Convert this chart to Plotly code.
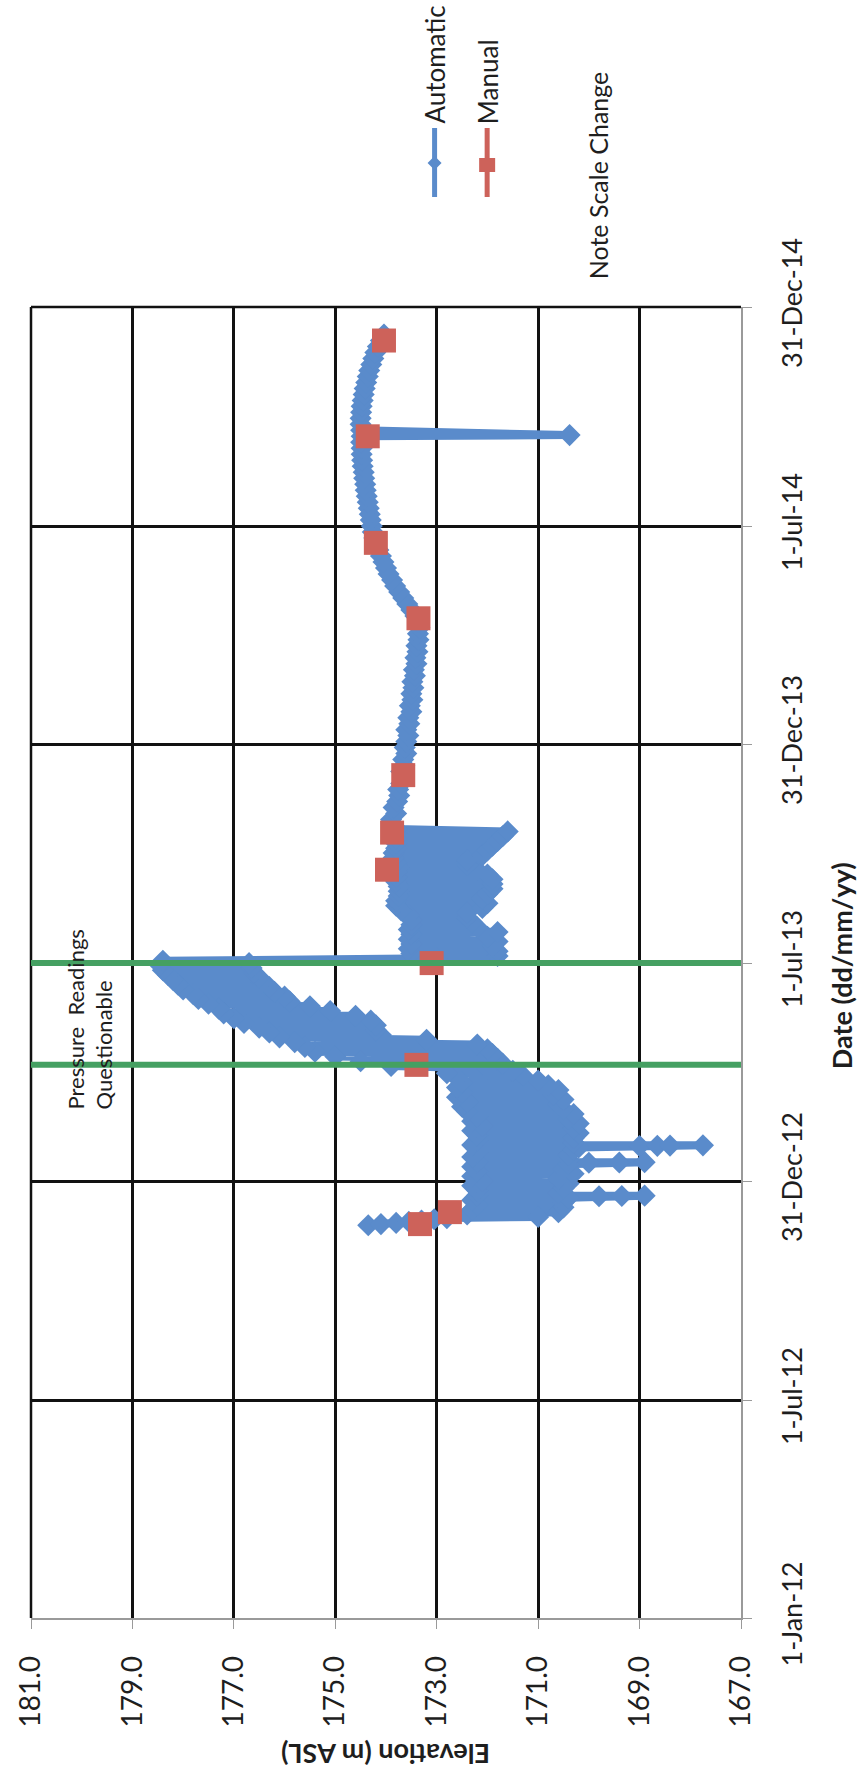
import pandas as pd
import plotly.graph_objects as go

# ---------------- data ----------------
# Automatic logger readings (m ASL)
TAIL_START = "2012-11-24"          # daily readings
TAIL_VALUES = [174.35, 174.1, 173.8, 173.55, 173.3, 173.05, 172.8]

WINTER_START = "2012-12-01"        # readings every 2 days
WINTER_VALUES = [171.0, 172.4, 170.6, 172.3, 170.5, 172.2, 170.5, 172.3, 170.4, 172.2,
                 170.6, 172.2, 170.5, 172.3, 170.4, 172.1, 170.6, 172.3, 170.3, 172.2,
                 170.5, 172.3, 170.4, 172.2, 170.4, 172.3, 170.4, 172.2, 170.3, 170.2,
                 172.3, 170.3, 172.2, 170.3, 172.2, 170.2, 172.3, 170.3, 172.1, 170.2,
                 172.3, 170.4, 172.2, 170.3, 172.4, 170.5, 172.5, 170.6, 172.4, 170.5,
                 172.6, 170.7, 172.5, 170.6, 172.6, 170.8, 172.5, 171.0, 172.6, 171.3,
                 172.8, 171.5, 172.0]

# short excursions recorded within a single day
SPIKE_TIMES = ["2012-12-18 06:00", "2012-12-18 12:00", "2012-12-18 18:00",
               "2013-01-15 06:00", "2013-01-15 12:00", "2013-01-15 18:00",
               "2013-01-29 04:00", "2013-01-29 09:00", "2013-01-29 14:00", "2013-01-29 19:00"]
SPIKE_VALUES = [169.8, 169.35, 168.9,
                170.0, 169.4, 168.9,
                169.0, 168.65, 168.4, 167.75]

SPRING_START = "2013-04-06"        # readings every 2 days
SPRING_VALUES = [173.9, 171.7, 174.5, 171.8, 175.0, 171.9, 175.4, 172.0, 175.6, 172.2,
                 175.8, 173.2, 176.1, 174.1, 176.3, 174.2, 176.5, 174.2, 176.8, 174.3,
                 177.0, 174.6, 177.2, 175.1, 177.3, 175.5, 177.5, 175.9, 177.7, 176.0,
                 177.8, 176.2, 178.0, 176.3, 178.1, 176.45, 178.2, 176.5, 178.3, 176.6,
                 178.4, 176.65, 178.45, 176.7, 178.4]

SUMMER_START = "2013-07-05"        # readings every 2 days
SUMMER_VALUES = [173.0, 171.8, 173.5, 171.8, 173.55, 171.9, 173.5, 171.8, 173.55, 172.0,
                 173.5, 171.8, 173.55, 172.2, 173.5, 172.3, 173.5, 172.4, 173.55, 172.4,
                 173.7, 172.1, 173.8, 172.0, 173.8, 172.1, 173.75, 172.0, 173.75, 171.9,
                 173.75, 171.9, 173.8, 171.9, 173.8, 172.0, 173.8, 172.2, 173.75, 172.4,
                 173.8, 172.4, 173.85, 172.1, 173.85, 172.0, 173.8, 171.9, 173.8, 171.8,
                 173.8, 171.7, 173.8, 171.6, 173.8]

STEADY_START = "2013-10-24"        # readings every 5 days
STEADY_VALUES = [173.85, 173.9, 173.8, 173.85, 173.78, 173.74, 173.76, 173.7, 173.66, 173.7,
                 173.64, 173.66, 173.6, 173.63, 173.6, 173.56, 173.6, 173.54, 173.56, 173.5,
                 173.53, 173.48, 173.5, 173.46, 173.48, 173.43, 173.45, 173.4, 173.42, 173.38,
                 173.4, 173.36, 173.37, 173.34, 173.36, 173.42, 173.5, 173.58, 173.66, 173.74,
                 173.82, 173.88, 173.95, 174.0, 174.05, 174.1, 174.15, 174.2, 174.23, 174.26,
                 174.28, 174.3, 174.32, 174.34, 174.36, 174.38, 174.4, 174.41, 174.43, 174.44,
                 174.46, 174.47, 174.48, 174.48, 174.49, 174.48, 174.49, 174.5, 174.5, 174.49,
                 174.48, 174.46, 174.44, 174.42, 174.39, 174.36, 174.33, 174.29, 174.25, 174.21,
                 174.16, 174.1, 174.04]

OUTLIER_DATE = ["2014-09-15"]
OUTLIER_VALUE = [170.38]

# Manual readings (m ASL)
MANUAL_DATES = ["2012-11-25", "2012-12-05", "2013-04-07", "2013-07-01", "2013-09-17",
                "2013-10-18", "2013-12-05", "2014-04-15", "2014-06-17", "2014-09-14",
                "2014-12-03"]
MANUAL_VALUES = [173.33, 172.74, 173.4, 173.1, 173.98, 173.88, 173.66, 173.36, 174.2,
                 174.36, 174.04]

# "Pressure readings questionable" markers
QUESTION_DATES = ["2013-04-07", "2013-07-01"]
QUESTION_X = [181.0, 167.0]

# Axis ticks
ELEV_RANGE = [181.0, 167.0]
ELEV_TICKS = [181.0, 179.0, 177.0, 175.0, 173.0, 171.0, 169.0, 167.0]
DATE_TICKS = ["2012-01-01", "2012-07-01", "2012-12-31", "2013-07-01", "2013-12-31",
              "2014-07-01", "2014-12-31"]
DATE_LABELS = ["1-Jan-12", "1-Jul-12", "31-Dec-12", "1-Jul-13", "31-Dec-13",
               "1-Jul-14", "31-Dec-14"]
DATE_RANGE = ["2012-01-01", "2014-12-31"]

# ---------------- build series ----------------
def seg(start, values, freq):
    return pd.DataFrame({"date": pd.date_range(start, periods=len(values), freq=freq),
                         "elev": values})

auto = pd.concat([
    seg(TAIL_START, TAIL_VALUES, "1D"),
    seg(WINTER_START, WINTER_VALUES, "2D"),
    pd.DataFrame({"date": pd.to_datetime(SPIKE_TIMES), "elev": SPIKE_VALUES}),
    seg(SPRING_START, SPRING_VALUES, "2D"),
    seg(SUMMER_START, SUMMER_VALUES, "2D"),
    seg(STEADY_START, STEADY_VALUES, "5D"),
    pd.DataFrame({"date": pd.to_datetime(OUTLIER_DATE), "elev": OUTLIER_VALUE}),
]).sort_values("date", kind="stable")

BLUE = "#5A8BCB"
RED = "#CD625A"
GREEN = "#45A062"
GRID = "#111111"
AXIS = "#9A9A9A"
FONT = "Lato"
TXT = "#1E1E1E"

fig = go.Figure()
fig.add_trace(go.Scatter(
    x=auto["elev"], y=auto["date"], mode="lines+markers", name="Automatic",
    line=dict(color=BLUE, width=8),
    marker=dict(symbol="diamond", size=17, color=BLUE, line=dict(width=0)),
    showlegend=False))
fig.add_trace(go.Scatter(
    x=MANUAL_VALUES, y=pd.to_datetime(MANUAL_DATES), mode="markers", name="Manual",
    marker=dict(symbol="square", size=24, color=RED, line=dict(width=0)),
    showlegend=False))
for d in QUESTION_DATES:
    fig.add_trace(go.Scatter(
        x=QUESTION_X, y=[d, d], mode="lines", line=dict(color=GREEN, width=6),
        showlegend=False, hoverinfo="skip"))

# ---------------- layout ----------------
L, R, T, B = 25, 741, 307, 1618
W, H = 859, 1775

def px(x):
    return (x - L) / (R - L)

def py(y):
    return (B - y) / (B - T)

fig.update_layout(
    width=W, height=H,
    margin=dict(l=L, r=W - R, t=T, b=H - B, pad=0),
    paper_bgcolor="white", plot_bgcolor="white",
    font=dict(family=FONT, color=TXT),
    showlegend=False,
    xaxis=dict(
        range=ELEV_RANGE, tickmode="array", tickvals=ELEV_TICKS,
        ticktext=[f"{v:.1f}" for v in ELEV_TICKS],
        tickangle=-90, tickfont=dict(family=FONT, size=28, color=TXT),
        showgrid=True, gridcolor=GRID, gridwidth=2.5, zeroline=False,
        showline=True, linecolor=AXIS, linewidth=1.5,
        ticks="outside", ticklen=9, tickcolor=AXIS, tickwidth=1.2,
        ticklabelstandoff=16, fixedrange=True),
    yaxis=dict(
        type="date", range=DATE_RANGE, side="right",
        tickmode="array", tickvals=DATE_TICKS, ticktext=DATE_LABELS,
        tickangle=-90, tickfont=dict(family=FONT, size=27, color=TXT),
        showgrid=True, gridcolor=GRID, gridwidth=2.5, zeroline=False,
        showline=True, linecolor=AXIS, linewidth=1.5,
        ticks="outside", ticklen=9, tickcolor=AXIS, tickwidth=1.2,
        ticklabelstandoff=18, fixedrange=True),
)

shapes = [
    # top and left chart borders (black, like the grid)
    dict(type="line", xref="paper", yref="paper", x0=0, x1=1, y0=1, y1=1,
         line=dict(color=GRID, width=2.5), layer="below"),
    dict(type="line", xref="paper", yref="paper", x0=0, x1=0, y0=0, y1=1,
         line=dict(color=GRID, width=2.5), layer="below"),
    # legend symbols
    dict(type="line", xref="paper", yref="paper", x0=px(432), x1=px(432),
         y0=py(128), y1=py(197), line=dict(color=BLUE, width=5)),
    dict(type="path", xref="paper", yref="paper", xsizemode="pixel", ysizemode="pixel",
         xanchor=px(432), yanchor=py(163), path="M -7 0 L 0 7 L 7 0 L 0 -7 Z",
         fillcolor=BLUE, line=dict(width=0)),
    dict(type="line", xref="paper", yref="paper", x0=px(485), x1=px(485),
         y0=py(128), y1=py(197), line=dict(color=RED, width=5)),
    dict(type="rect", xref="paper", yref="paper", xsizemode="pixel", ysizemode="pixel",
         xanchor=px(485), yanchor=py(165), x0=-8, x1=8, y0=-7, y1=7,
         fillcolor=RED, line=dict(width=0)),
]
fig.update_layout(shapes=shapes)

ann = [
    dict(text="<b>Elevation (m ASL)</b>", x=px(383), y=py(1755), textangle=180,
         font=dict(size=27)),
    dict(text="<b>Date (dd/mm/yy)</b>", x=px(842), y=py(966), textangle=-90,
         font=dict(size=27)),
    dict(text="Automatic", x=px(432), y=py(65), textangle=-90, font=dict(size=26)),
    dict(text="Manual", x=px(486), y=py(82), textangle=-90, font=dict(size=26)),
    dict(text="Note Scale Change", x=px(597), y=py(175), textangle=-90, font=dict(size=25)),
    dict(text="Pressure&nbsp;&nbsp;Readings<br>Questionable", x=px(84), y=py(1020),
         textangle=-90, align="left", font=dict(size=22)),
]
for a in ann:
    a.update(xref="paper", yref="paper", showarrow=False, xanchor="center", yanchor="middle")
    a["font"].update(family=FONT, color=TXT)
fig.update_layout(annotations=ann)

fig.write_html("out.html")
